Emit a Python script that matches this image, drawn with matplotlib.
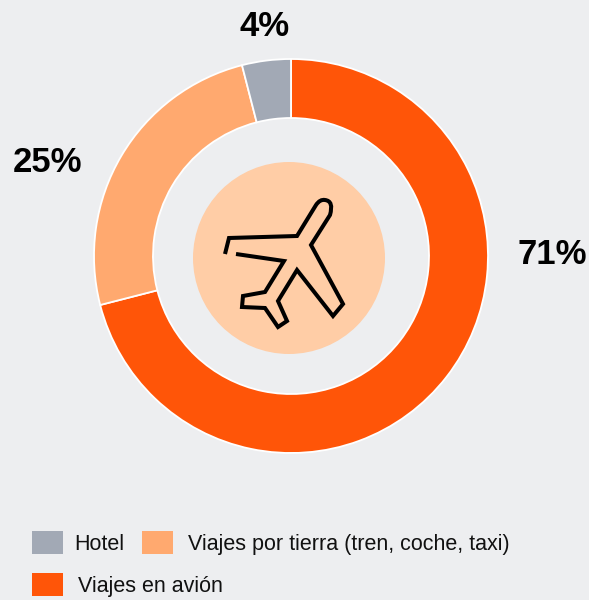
import numpy as np
import matplotlib
matplotlib.use("Agg")
import matplotlib.pyplot as plt
from matplotlib.patches import Circle, Rectangle
from matplotlib.path import Path
from matplotlib.patches import PathPatch

plt.rcParams["font.family"] = ["Liberation Sans", "DejaVu Sans"]

# -----------------------------
# Data
# -----------------------------
categories = ["Viajes en avión", "Viajes por tierra (tren, coche, taxi)", "Hotel"]
values = [71, 25, 4]
colors = ["#FF5508", "#FFA96F", "#A2A9B5"]

BG = "#EDEEF0"
H = 600

fig = plt.figure(figsize=(5.89, 6.0), dpi=100, facecolor=BG)
ax = fig.add_axes([0, 0, 1, 1])

# -----------------------------
# Donut
# -----------------------------
cx, cy = 291, H - 256
outer = 197
ring = 59
ax.pie(
    values,
    colors=colors,
    startangle=90,
    counterclock=False,
    center=(cx, cy),
    radius=outer,
    wedgeprops={"width": ring, "edgecolor": "white", "linewidth": 1.3},
)
ax.set_xlim(0, 589)
ax.set_ylim(0, H)
ax.set_aspect("equal")
ax.axis("off")

# value labels
label_pos = [(552, 254), (47.5, 162), (265, 27)]
for val, (x, y) in zip(values, label_pos):
    ax.text(x, H - y, f"{val}%", fontsize=25, fontweight="bold",
            color="black", ha="center", va="center")

# -----------------------------
# Plane icon
# -----------------------------
ax.add_patch(Circle((cx - 2, H - 258), 96, facecolor="#FFCDA6", edgecolor="none"))

# outline, in screen pixels
C3 = Path.CURVE3
L = Path.LINETO
plane = [
    ((225, 254), Path.MOVETO), ((229, 238), L), ((297, 236), L), ((316, 205), L),
    ((320, 199), C3), ((325, 200), C3), ((334, 201), C3), ((330, 215), C3),
    ((311, 245), L), ((343, 304), L), ((333, 316), L), ((297, 270), L),
    ((278, 301), L), ((287, 321), L), ((278, 327), L), ((265, 308), L),
    ((242, 307), L), ((243, 296), L), ((265, 292), L), ((284, 261), L),
    ((236, 254), L),
]
verts = [(x, H - y) for (x, y), _ in plane]
codes = [c for _, c in plane]
ax.add_patch(PathPatch(Path(verts, codes), facecolor="none", edgecolor="black",
                       linewidth=2.9, joinstyle="miter", capstyle="butt"))

# -----------------------------
# Legend
# -----------------------------
legend_items = [
    (2, 32, 531, 74),
    (1, 142, 531, 188),
    (0, 32, 573, 78),
]
for idx, x, y, tx in legend_items:
    ax.add_patch(Rectangle((x, H - y - 23), 31, 23, facecolor=colors[idx], edgecolor="none"))
    ax.text(tx, H - y - 13.5, categories[idx], fontsize=15.5, color="#111111",
            ha="left", va="center")

fig.savefig("out.png", dpi=100, facecolor=BG)
